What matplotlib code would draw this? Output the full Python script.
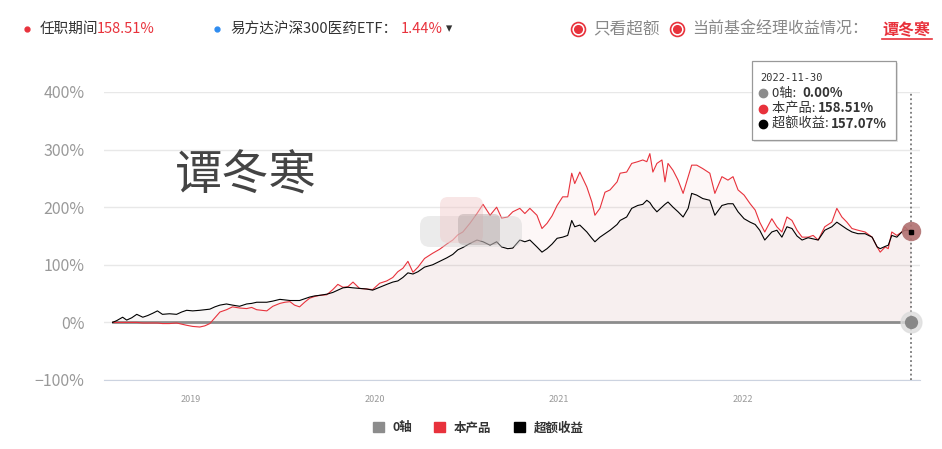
import numpy as np
import matplotlib
matplotlib.use("Agg")
import matplotlib.pyplot as plt
from matplotlib.patches import Patch, FancyBboxPatch, Rectangle

plt.rcParams['font.family'] = ['Noto Sans CJK SC', 'DejaVu Sans']

# ---- data (cumulative return, %) ----
dates = [
    "2018-07-30", "2018-08-07", "2018-08-19", "2018-08-27", "2018-09-06", "2018-09-16", "2018-09-28", "2018-10-08", "2018-10-18", "2018-10-27",
    "2018-11-06", "2018-11-20", "2018-12-04", "2018-12-14", "2018-12-24", "2019-01-05", "2019-01-19", "2019-01-29", "2019-02-08", "2019-02-18",
    "2019-02-28", "2019-03-13", "2019-03-25", "2019-04-08", "2019-04-22", "2019-05-02", "2019-05-12", "2019-05-22", "2019-06-01", "2019-06-13",
    "2019-06-27", "2019-07-07", "2019-07-17", "2019-07-26", "2019-08-05", "2019-08-15", "2019-08-25", "2019-09-04", "2019-09-14", "2019-09-28",
    "2019-10-10", "2019-10-20", "2019-10-30", "2019-11-09", "2019-11-19", "2019-12-02", "2019-12-16", "2019-12-28", "2020-01-11", "2020-01-25",
    "2020-02-06", "2020-02-16", "2020-02-26", "2020-03-07", "2020-03-17", "2020-03-27", "2020-04-09", "2020-04-25", "2020-05-09", "2020-05-23",
    "2020-06-04", "2020-06-14", "2020-06-24", "2020-07-08", "2020-07-22", "2020-08-03", "2020-08-17", "2020-08-30", "2020-09-09", "2020-09-21",
    "2020-10-01", "2020-10-15", "2020-10-25", "2020-11-04", "2020-11-18", "2020-11-28", "2020-12-08", "2020-12-18", "2020-12-28", "2021-01-08",
    "2021-01-18", "2021-01-26", "2021-02-01", "2021-02-11", "2021-02-25", "2021-03-07", "2021-03-13", "2021-03-23", "2021-04-02", "2021-04-12",
    "2021-04-26", "2021-05-02", "2021-05-15", "2021-05-25", "2021-06-06", "2021-06-16", "2021-06-24", "2021-06-30", "2021-07-06", "2021-07-14",
    "2021-07-24", "2021-07-30", "2021-08-05", "2021-08-15", "2021-08-25", "2021-09-04", "2021-09-14", "2021-09-21", "2021-10-01", "2021-10-13",
    "2021-10-27", "2021-11-06", "2021-11-20", "2021-12-02", "2021-12-12", "2021-12-22", "2022-01-03", "2022-01-15", "2022-01-25", "2022-02-03",
    "2022-02-13", "2022-02-27", "2022-03-09", "2022-03-19", "2022-03-29", "2022-04-08", "2022-04-18", "2022-04-28", "2022-05-10", "2022-05-20",
    "2022-05-30", "2022-06-12", "2022-06-26", "2022-07-06", "2022-07-16", "2022-07-26", "2022-08-05", "2022-08-17", "2022-08-31", "2022-09-14",
    "2022-09-24", "2022-09-30", "2022-10-10", "2022-10-16", "2022-10-23", "2022-11-02", "2022-11-12", "2022-11-18", "2022-11-24", "2022-11-30",
]

product = [
    0, 0, 0, 0, 0, 0, -1, -1, -1, -1,
    -2, -2, -1, -3, -5, -7, -8, -6, -2, 8,
    18, 22, 27, 25, 24, 26, 22, 21, 20, 28,
    33, 35, 36, 30, 27, 35, 42, 45, 47, 48,
    57, 66, 61, 62, 70, 59, 58, 57, 68, 72,
    78, 88, 94, 106, 87, 96, 111, 120, 127, 136,
    143, 152, 157, 172, 189, 205, 186, 200, 181, 183,
    192, 198, 189, 198, 186, 163, 172, 185, 203, 218,
    218, 259, 241, 261, 235, 209, 186, 198, 226, 230,
    244, 259, 261, 276, 279, 282, 279, 293, 261, 276,
    282, 244, 276, 264, 247, 224, 253, 273, 273, 267,
    259, 224, 253, 247, 253, 230, 221, 206, 195, 174,
    157, 180, 166, 157, 183, 177, 160, 148, 148, 151,
    143, 166, 174, 198, 183, 174, 163, 160, 157, 148,
    131, 122, 131, 128, 157, 151, 157, 166, 160, 158.51,
]

excess = [
    0, 3, 9, 4, 8, 14, 9, 12, 16, 20,
    14, 15, 14, 18, 21, 20, 21, 22, 23, 27,
    30, 32, 30, 28, 32, 33, 35, 35, 35, 37,
    40, 39, 38, 38, 38, 41, 44, 46, 47, 49,
    52, 56, 60, 61, 60, 59, 58, 56, 61, 66,
    70, 72, 78, 86, 84, 88, 96, 100, 106, 112,
    118, 126, 130, 137, 143, 140, 134, 140, 131, 128,
    129, 143, 140, 143, 131, 122, 128, 136, 146, 148,
    151, 177, 166, 169, 157, 146, 140, 148, 154, 160,
    170, 177, 183, 198, 203, 205, 212, 208, 200, 192,
    200, 205, 209, 200, 192, 183, 198, 224, 221, 215,
    212, 186, 203, 206, 206, 192, 180, 174, 170, 160,
    143, 157, 160, 148, 166, 163, 150, 143, 147, 145,
    143, 160, 166, 174, 168, 162, 157, 154, 154, 148,
    131, 128, 132, 134, 151, 148, 157, 160, 160, 157.07,
]

yticks = [-100, 0, 100, 200, 300, 400]
xtick_years = ["2019", "2020", "2021", "2022"]

RED = "#e8323c"
BLACK = "#000000"
GRAY = "#8c8c8c"

x = np.array(dates, dtype="datetime64[D]")
red = np.array(product, dtype=float)
blk = np.array(excess, dtype=float)
zero = np.zeros_like(red)

W, H = 942, 449
fig = plt.figure(figsize=(W / 100, H / 100), dpi=100)
ax = fig.add_axes([104 / W, 1 - 380 / H, 816 / W, 288 / H])

ax.fill_between(x, red, 0, color="#cc1010", alpha=0.03, lw=0)
ax.fill_between(x, blk, 0, color="#704040", alpha=0.04, lw=0)
ax.plot(x, zero, color=GRAY, lw=2.0, zorder=3)
ax.plot(x, red, color=RED, lw=0.8, zorder=4)
ax.plot(x, blk, color=BLACK, lw=0.8, zorder=5)

# hover state at the last date
ax.axvline(x[-1], color="#777777", ls=(0, (1, 1.5)), lw=1.3, zorder=6)
ax.plot(x[-1], zero[-1], "o", ms=15, color="#dddddd", alpha=0.8, zorder=7, clip_on=False)
ax.plot(x[-1], zero[-1], "o", ms=8.5, color="#888888", zorder=8, clip_on=False)
ax.plot(x[-1], red[-1], "o", ms=14, color="#b07070", alpha=0.9, mec="none", zorder=7, clip_on=False)
ax.plot(x[-1], blk[-1], "s", ms=3, color=BLACK, zorder=8, clip_on=False)

ax.set_ylim(-100, 400)
ax.set_xlim(x[0] - np.timedelta64(17, "D"), x[-1] + np.timedelta64(18, "D"))
ax.set_yticks(yticks)
ax.set_yticklabels([f"{v}%" if v >= 0 else f"\u2212{-v}%" for v in yticks])
ax.set_xticks([np.datetime64(y + "-01-01") for y in xtick_years])
ax.set_xticklabels(xtick_years)
ax.grid(axis="y", color="#e8e8e8", lw=1)
ax.set_axisbelow(True)
for s in ["top", "right", "left"]:
    ax.spines[s].set_visible(False)
ax.spines["bottom"].set_color("#ccd3e0")
ax.tick_params(axis="y", length=0, pad=14, labelsize=11.5, labelcolor="#999999")
ax.tick_params(axis="x", length=0, pad=11, labelsize=6.5, labelcolor="#999999")

# legend
handles = [Patch(color=GRAY, label="0轴"), Patch(color=RED, label="本产品"), Patch(color=BLACK, label="超额收益")]
leg = fig.legend(handles=handles, loc="center", bbox_to_anchor=(478 / W, 1 - 428 / H), ncol=3,
                 frameon=False, fontsize=9, handlelength=0.9, handleheight=0.9,
                 handletextpad=0.7, columnspacing=1.75)
for t in leg.get_texts():
    t.set_color("#333333")
    t.set_fontweight("bold")

# overlay in pixel coordinates for header, tooltip and watermark
ov = fig.add_axes([0, 0, 1, 1], zorder=10)
ov.set_xlim(0, W)
ov.set_ylim(H, 0)
ov.axis("off")
ov.patch.set_alpha(0)

ov.plot(27, 29, "o", ms=3.5, color=RED)
ov.text(40, 29, "任职期间", fontsize=10.5, color="#333333", va="center")
ov.text(97, 29, f"{red[-1]:.2f}%", fontsize=10.5, color=RED, va="center")
ov.plot(217, 29, "o", ms=3.5, color="#2f8cf0")
ov.text(230, 29, "易方达沪深300医药ETF：", fontsize=10.5, color="#333333", va="center")
ov.text(401, 29, "1.44%", fontsize=10.5, color=RED, va="center")
ov.text(446, 29, "▾", fontsize=9, color="#333333", va="center", family="DejaVu Sans")

for cx in [578, 677]:
    ov.plot(cx, 29, "o", ms=10, mfc="white", mec=RED, mew=1.2)
    ov.plot(cx, 29, "o", ms=5.5, color=RED)
ov.text(593, 29, "只看超额", fontsize=12, color="#888888", va="center")
ov.text(692, 29, "当前基金经理收益情况：", fontsize=11.5, color="#888888", va="center")
ov.text(882, 29, "谭冬寒", fontsize=11.5, color=RED, va="center", fontweight="bold")
ov.plot([882, 932], [39, 39], color=RED, lw=1.2)

ov.text(175, 176, "谭冬寒", fontsize=34, color="#444444", va="center")

# blurred watermark
ov.add_patch(FancyBboxPatch((420, 216), 102, 31, boxstyle="round,pad=0,rounding_size=10",
                            fc="#cfcfcf", ec="none", alpha=0.4))
ov.add_patch(FancyBboxPatch((440, 197), 43, 46, boxstyle="round,pad=0,rounding_size=8",
                            fc="#f0c8c8", ec="none", alpha=0.45))
ov.add_patch(FancyBboxPatch((458, 214), 42, 31, boxstyle="round,pad=0,rounding_size=6",
                            fc="#a89a9a", ec="none", alpha=0.4))

# tooltip
ov.add_patch(Rectangle((754, 63), 144, 79, fc="#cccccc", ec="none", alpha=0.5))
ov.add_patch(Rectangle((752, 61), 144, 79, fc="white", ec="#999999", lw=0.9))
ov.text(760, 78, str(x[-1]), fontsize=7.5, color="#333333", va="center", family="DejaVu Sans Mono")
rows = [("0轴: ", zero[-1], GRAY, 802), ("本产品: ", red[-1], RED, 818), ("超额收益: ", blk[-1], BLACK, 831)]
for i, (lab, val, col, vx) in enumerate(rows):
    yy = 93 + i * 15.5
    ov.plot(763, yy, "o", ms=6, color=col)
    ov.text(772, yy, lab, fontsize=9.5, color="#333333", va="center")
    ov.text(vx, yy, f"{val:.2f}%", fontsize=9.5, color="#333333", va="center", fontweight="bold")

fig.savefig("out.png", dpi=100)
